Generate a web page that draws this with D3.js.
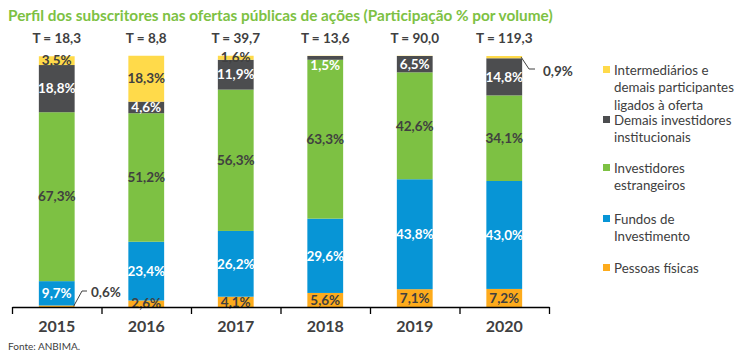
<!DOCTYPE html>
<html><head><meta charset="utf-8">
<script src="https://cdn.jsdelivr.net/npm/d3@7"></script>
<style>body{margin:0;background:#fff}svg{display:block}</style>
</head><body>
<svg id="c" width="750" height="355"></svg>
<script>
const years = ["2015","2016","2017","2018","2019","2020"];
const totals = ["T = 18,3","T = 8,8","T = 39,7","T = 13,6","T = 90,0","T = 119,3"];
const pessoasFisicas = [0.6, 2.6, 4.1, 5.6, 7.1, 7.2];
const fundos = [9.7, 23.4, 26.2, 29.6, 43.8, 43.0];
const estrangeiros = [67.3, 51.2, 56.3, 63.3, 42.6, 34.1];
const demaisInst = [18.8, 4.6, 11.9, 1.5, 6.5, 14.8];
const intermediarios = [3.5, 18.3, 1.6, 0.1, 0.1, 0.9];
const seriesKeys = ["pf","fundos","estr","demais","interm"];
const seriesNames = {
  interm: ["Intermediários e","demais participantes","ligados à oferta"],
  demais: ["Demais investidores","institucionais"],
  estr: ["Investidores","estrangeiros"],
  fundos: ["Fundos de","Investimento"],
  pf: ["Pessoas físicas"]
};
const colors = {pf:"#FDAB1C", fundos:"#0795D6", estr:"#7DC143", demais:"#4C4D4F", interm:"#FFDA4A"};
const labelColors = {pf:"#404040", fundos:"#ffffff", estr:"#404040", demais:"#ffffff", interm:"#404040"};
const title = "Perfil dos subscritores nas ofertas públicas de ações (Participação % por volume)";

const rows = years.map((y,i)=>({year:y, pf:pessoasFisicas[i], fundos:fundos[i], estr:estrangeiros[i], demais:demaisInst[i], interm:intermediarios[i]}));
const fmt = v => v.toFixed(1).replace(".",",") + "%";
const FONT = "Lato, 'Open Sans', sans-serif";
const dark = "#404040";

const svg = d3.select("#c");
const x = d3.scaleBand().domain(years).range([12,549]).paddingInner(0.6).paddingOuter(0.3);
const y = d3.scaleLinear().domain([0,100]).range([307,56]);
const stack = d3.stack().keys(seriesKeys)(rows);

// title
const t = svg.append("text").attr("x",8).attr("y",21).attr("fill","#7DC143")
  .attr("font-family",FONT).attr("font-weight","bold").attr("font-size",15).text(title);
let w = t.node().getComputedTextLength();
t.attr("font-size", 15*545/w);

// bars
const g = svg.append("g");
stack.forEach(s=>{
  g.selectAll(null).data(s).join("rect")
    .attr("x",d=>x(d.data.year)).attr("width",x.bandwidth())
    .attr("y",d=>y(d[1])).attr("height",d=>Math.max(0,y(d[0])-y(d[1])))
    .attr("fill",colors[s.key]);
});

// segment labels
const skip = {"pf-2015":1,"interm-2020":1,"interm-2018":1,"interm-2019":1};
const offset = {"demais-2018":7};
stack.forEach(s=>{
  s.forEach(d=>{
    const id = s.key+"-"+d.data.year;
    if(skip[id]) return;
    const v = d.data[s.key];
    const cy = (y(d[0])+y(d[1]))/2 + (offset[id]||0);
    g.append("text").attr("x",x(d.data.year)+x.bandwidth()/2).attr("y",cy)
      .attr("dy","0.35em").attr("text-anchor","middle")
      .attr("font-family",FONT).attr("font-weight","bold").attr("font-size",13.5)
      .attr("fill",labelColors[s.key]).text(fmt(v));
  });
});

// external labels with leader lines
function ext(key, yi, pts, lx, ly){
  const i = years.indexOf(yi);
  const s = stack.find(q=>q.key===key)[i];
  const x0 = x(yi)+x.bandwidth();
  const y0 = (y(s[0])+y(s[1]))/2;
  const line = d3.line();
  g.append("path").attr("d", line([[x0-1,y0]].concat(pts))).attr("fill","none").attr("stroke",dark).attr("stroke-width",1);
  g.append("text").attr("x",lx).attr("y",ly).attr("dy","0.35em")
    .attr("font-family",FONT).attr("font-weight","bold").attr("font-size",13.5).attr("fill",dark)
    .text(fmt(rows[i][key]));
}
ext("pf","2015",[[82,291],[87,291]],91,292);
ext("interm","2020",[[529,69],[535,69]],543,71);

// totals
svg.selectAll(null).data(years).join("text")
  .attr("x",d=>x(d)+x.bandwidth()/2).attr("y",38).attr("dy","0.35em").attr("text-anchor","middle")
  .attr("font-family",FONT).attr("font-weight","bold").attr("font-size",13.5).attr("fill",dark)
  .text((d,i)=>totals[i]);

// axis
const xb = d3.scaleLinear().domain([0,years.length]).range([12,549]);
const ax = svg.append("g").attr("transform","translate(0,307)")
  .call(d3.axisBottom(xb).tickValues(d3.range(years.length+1)).tickFormat("").tickSize(7).tickSizeOuter(0));
ax.select(".domain").attr("stroke","#000").attr("stroke-width",1.3);
ax.selectAll(".tick line").attr("stroke","#000").attr("stroke-width",1.3);
const al = svg.append("g").attr("transform","translate(0,307)")
  .call(d3.axisBottom(x).tickSize(0).tickPadding(25));
al.select(".domain").remove();
al.selectAll("text").attr("font-family",FONT).attr("font-weight","bold").attr("font-size",16).attr("fill",dark).attr("dy","0");

// legend
const legOrder = ["interm","demais","estr","fundos","pf"];
const legY = [70,120,168,219,268];
legOrder.forEach((k,i)=>{
  svg.append("rect").attr("x",603).attr("y",legY[i]-4).attr("width",7).attr("height",7).attr("fill",colors[k]);
  seriesNames[k].forEach((ln,j)=>{
    svg.append("text").attr("x",614).attr("y",legY[i]+j*17.5).attr("dy","0.35em")
      .attr("font-family",FONT).attr("font-size",13.3).attr("fill",dark).text(ln);
  });
});

// source
svg.append("text").attr("x",8).attr("y",350).attr("font-family",FONT).attr("font-size",10).attr("fill",dark).text("Fonte: ANBIMA.");
</script>
</body></html>
